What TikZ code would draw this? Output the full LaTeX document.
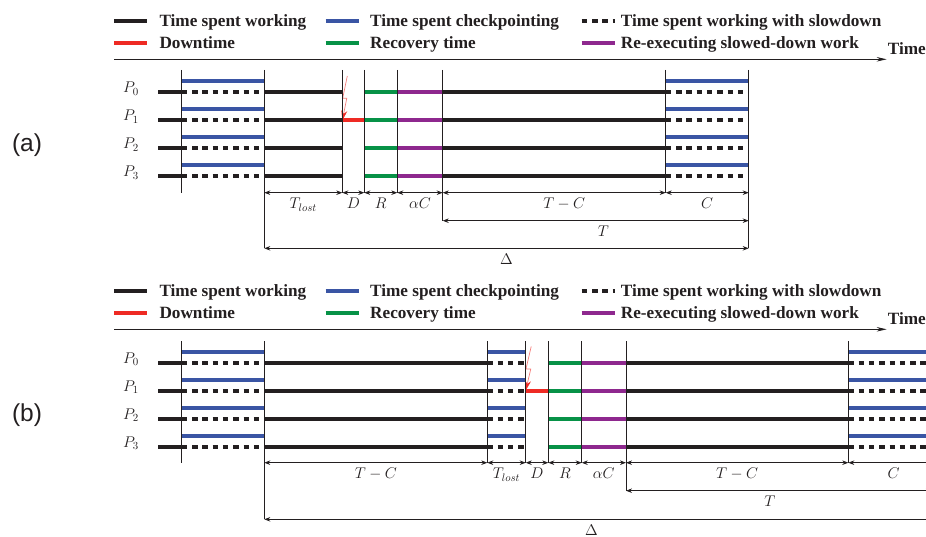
\RequirePackage{fix-cm}
\documentclass[tikz,border=0pt]{standalone}
\usepackage[no-math]{fontspec}
\setmainfont{Liberation Serif}
\setsansfont{Liberation Sans}
\usetikzlibrary{arrows.meta}

\definecolor{workblack}{HTML}{231F20}
\definecolor{ckptblue}{HTML}{3A55A4}
\definecolor{downred}{HTML}{EE2A24}
\definecolor{recgreen}{HTML}{079247}
\definecolor{reexpurple}{HTML}{8E288E}

\begin{document}
\begin{tikzpicture}[x=1pt, y=-1pt,
    bar/.style={line width=4pt},
    work/.style={bar, workblack},
    ckpt/.style={bar, ckptblue},
    slow/.style={bar, workblack, dash pattern=on 5.5pt off 4.8pt},
    down/.style={bar, downred},
    recov/.style={bar, recgreen},
    reexec/.style={bar, reexpurple},
    tick/.style={line width=0.9pt, workblack},
    dim/.style={line width=0.8pt, workblack, {Stealth[length=6pt,width=4.5pt]}-{Stealth[length=6pt,width=4.5pt]}},
    dimlabel/.style={anchor=north, yshift=-5pt, inner sep=0pt, font=\fontsize{15.5}{18}\selectfont, text=workblack},
    legtext/.style={anchor=base west, inner sep=0pt, font=\fontsize{17.2}{20}\selectfont\bfseries, text=workblack},
    proc/.style={anchor=base, inner sep=0pt, font=\fontsize{15.5}{18}\selectfont, text=workblack},
    panel/.style={inner sep=0pt, font=\sffamily\fontsize{24.5}{28}\selectfont, text=workblack},
    bolt/.style={downred!60, line width=0.7pt, -{Stealth[length=10pt,width=6pt,color=downred]}},
  ]

\useasboundingbox (0,0) rectangle (926,537);
\clip (0,0) rectangle (926,537);

  % Legend and time axis (same for both panels)
  \foreach \p/\off in {a/0,b/270}{
      \draw[work] (114,20.7+\off) -- (147.3,20.7+\off);
      \node[legtext] (lwork\p) at (159.3,26.5+\off) {Time spent working};
      \draw[ckpt] (325.7,20.7+\off) -- (359,20.7+\off);
      \node[legtext] (lckpt\p) at (370,26.5+\off) {Time spent checkpointing};
      \draw[slow] (581.7,20.7+\off) -- (615,20.7+\off);
      \node[legtext] (lslow\p) at (620.7,26.5+\off) {Time spent working with slowdown};
      \draw[down] (114,42.7+\off) -- (147.3,42.7+\off);
      \node[legtext] (ldown\p) at (159.3,48.5+\off) {Downtime};
      \draw[recov] (325.7,42.7+\off) -- (359,42.7+\off);
      \node[legtext] (lrecov\p) at (370,48.5+\off) {Recovery time};
      \draw[reexec] (581.7,42.7+\off) -- (615,42.7+\off);
      \node[legtext] (lreexec\p) at (620.7,48.5+\off) {Re-executing slowed-down work};

      \coordinate (axstart\p) at (114,59.3+\off);
      \coordinate (axend\p) at (886.7,59.3+\off);
      \draw[line width=1pt, workblack, -{Stealth[length=10pt,width=4.5pt]}] (axstart\p) -- (axend\p);
      \node[legtext] (ltime\p) at (887.7,54.5+\off) {Time};
    }

  % ---------------- Panel (a) ----------------
  \node[panel] (panela) at (27,145) {(a)};

  \coordinate (topa) at (0,70);
  \coordinate (ta) at (0,220.7);
  \coordinate (deltaa) at (0,248.3);
  \foreach \n/\x in {1/181.7,2/264.3,3/342.3,4/364.3,5/397.3,6/442.7,7/665.7,8/748.7}
  \coordinate (a\n) at (\x,192.7);

  % Processors
  \foreach \i in {0,...,3}{
      \coordinate (pa\i) at (158.3,92.5+28*\i);
      \coordinate (ca\i) at (158.3,81.5+28*\i);
      \node[proc] (Pa\i) at (131,93+28*\i) {$P_{\i}$};
      \draw[work] (pa\i) -- (a1 |- pa\i);
      \draw[slow] (a1 |- pa\i) -- (a2 |- pa\i);
      \draw[ckpt] (a1 |- ca\i) -- (a2 |- ca\i);
      \draw[work] (a2 |- pa\i) -- (a3 |- pa\i);
      \draw[recov] (a4 |- pa\i) -- (a5 |- pa\i);
      \draw[reexec] (a5 |- pa\i) -- (a6 |- pa\i);
      \draw[work] (a6 |- pa\i) -- (a7 |- pa\i);
      \draw[slow] (a7 |- pa\i) -- (a8 |- pa\i);
      \draw[ckpt] (a7 |- ca\i) -- (a8 |- ca\i);
    }

  % Failure on P1
  \coordinate (faila) at (a3 |- pa1);
  \draw[down] (faila) -- (a4 |- pa1);
  \draw[bolt] ([xshift=5pt,yshift=44.5pt]faila) -- ++(-4.6,22.2) -- ++(4.1,0) -- (faila);

  % Vertical marks
  \foreach \n in {1,3,4,5,7}
  \draw[tick] (a\n |- topa) -- (a\n);
  \draw[tick] (a6 |- topa) -- (a6 |- ta);
  \foreach \n in {2,8}
  \draw[tick] (a\n |- topa) -- (a\n |- deltaa);

  % Durations
  \draw[dim] (a2) -- node[dimlabel] (tlosta) {$T_{lost}$} (a3);
  \draw[dim] (a3) -- node[dimlabel] (da) {$D$} (a4);
  \draw[dim] (a4) -- node[dimlabel] (ra) {$R$} (a5);
  \draw[dim] (a5) -- node[dimlabel] (alphaca) {$\alpha C$} (a6);
  \draw[dim] (a6) -- node[dimlabel, pos=0.545] (tmca) {$T-C$} (a7);
  \draw[dim] (a7) -- node[dimlabel] (cca) {$C$} (a8);
  \draw[dim] (a6 |- ta) -- node[dimlabel, pos=0.525] (tperioda) {$T$} (a8 |- ta);
  \draw[dim] (a2 |- deltaa) -- node[dimlabel] (deltalabela) {$\Delta$} (a8 |- deltaa);

  % ---------------- Panel (b) ----------------
  \node[panel] (panelb) at (27,415) {(b)};

  \coordinate (topb) at (0,341);
  \coordinate (tb) at (0,490.7);
  \coordinate (deltab) at (0,519.3);
  \foreach \n/\x in {1/181.7,2/264.3,3/487.3,4/525.7,5/548.3,6/581.7,7/626,8/848.3,9/932}
  \coordinate (b\n) at (\x,462.7);

  % Processors
  \foreach \i in {0,...,3}{
      \coordinate (pb\i) at (158.3,362.5+28*\i);
      \coordinate (cb\i) at (158.3,351.5+28*\i);
      \node[proc] (Pb\i) at (131,363+28*\i) {$P_{\i}$};
      \draw[work] (pb\i) -- (b1 |- pb\i);
      \draw[slow] (b1 |- pb\i) -- (b2 |- pb\i);
      \draw[ckpt] (b1 |- cb\i) -- (b2 |- cb\i);
      \draw[work] (b2 |- pb\i) -- (b3 |- pb\i);
      \draw[slow] (b3 |- pb\i) -- (b4 |- pb\i);
      \draw[ckpt] (b3 |- cb\i) -- (b4 |- cb\i);
      \draw[recov] (b5 |- pb\i) -- (b6 |- pb\i);
      \draw[reexec] (b6 |- pb\i) -- (b7 |- pb\i);
      \draw[work] (b7 |- pb\i) -- (b8 |- pb\i);
      \draw[slow] (b8 |- pb\i) -- (b9 |- pb\i);
      \draw[ckpt] (b8 |- cb\i) -- (b9 |- cb\i);
    }

  % Failure on P1
  \coordinate (failb) at (b4 |- pb1);
  \draw[down] (failb) -- (b5 |- pb1);
  \draw[bolt] ([xshift=5.5pt,yshift=44pt]failb) -- ++(-5.2,22.4) -- ++(4.8,0) -- (failb);

  % Vertical marks
  \foreach \n in {1,3,4,5,6,8}
  \draw[tick] (b\n |- topb) -- (b\n);
  \draw[tick] (b7 |- topb) -- (b7 |- tb);
  \draw[tick] (b2 |- topb) -- (b2 |- deltab);

  % Durations
  \draw[dim] (b2) -- node[dimlabel] (tmcb) {$T-C$} (b3);
  \draw[dim] (b3) -- node[dimlabel] (tlostb) {$T_{lost}$} (b4);
  \draw[dim] (b4) -- node[dimlabel] (db) {$D$} (b5);
  \draw[dim] (b5) -- node[dimlabel] (rb) {$R$} (b6);
  \draw[dim] (b6) -- node[dimlabel] (alphacb) {$\alpha C$} (b7);
  \draw[dim] (b7) -- node[dimlabel] (tmcbb) {$T-C$} (b8);
  \draw[dim] (b8) -- node[dimlabel, pos=0.54] (ccb) {$C$} (b9);
  \draw[dim] (b7 |- tb) -- node[dimlabel, pos=0.47] (tperiodb) {$T$} (b9 |- tb);
  \draw[dim] (b2 |- deltab) -- node[dimlabel, pos=0.49] (deltalabelb) {$\Delta$} (b9 |- deltab);

\end{tikzpicture}
\end{document}
